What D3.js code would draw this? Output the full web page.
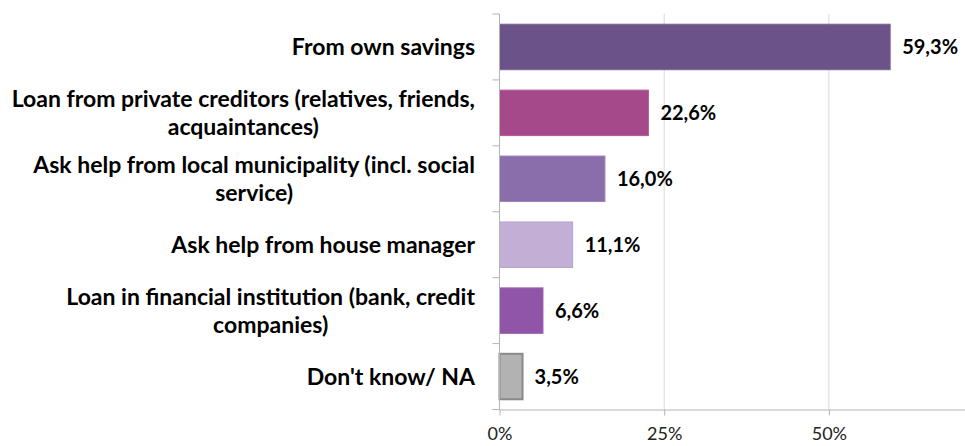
<!DOCTYPE html>
<html>
<head>
<meta charset="utf-8">
<script src="https://cdn.jsdelivr.net/npm/d3@7"></script>
<style>
  body { margin: 0; background: #fff; }
  svg { display: block; font-family: Lato, "Open Sans", sans-serif; }
</style>
</head>
<body>
<div id="vis"></div>
<script>
// chart data
var categories = [
  ["From own savings"],
  ["Loan from private creditors (relatives, friends,", "acquaintances)"],
  ["Ask help from local municipality (incl. social", "service)"],
  ["Ask help from house manager"],
  ["Loan in financial institution (bank, credit", "companies)"],
  ["Don't know/ NA"]
];
var values = [59.3, 22.6, 16.0, 11.1, 6.6, 3.5];
var valueLabels = ["59,3%", "22,6%", "16,0%", "11,1%", "6,6%", "3,5%"];
var barColors = ["#6b5389", "#a6498b", "#8a6dab", "#c3afd5", "#9155a7", "#b2b2b2"];
var barStrokes = ["#7a6596", "#b0589a", "#9a7fba", "#b7a3cc", "#9d63b2", "#8a8a8a"];
var xTicks = [0, 25, 50];

var width = 965, height = 446;
var x0 = 499.5, yTop = 14, yBottom = 409.5;

var svg = d3.select("#vis").append("svg")
  .attr("width", width)
  .attr("height", height);

// axis runs to 75%, past the right edge of the picture
var x = d3.scaleLinear().domain([0, 75]).range([x0, x0 + 75 * 6.588]);
var y = d3.scaleBand().domain(d3.range(categories.length))
  .range([yTop, yBottom]).paddingInner(0.31).paddingOuter(0.155);

// gridlines
svg.append("g")
  .selectAll("line")
  .data(xTicks.filter(function(d) { return d > 0; }))
  .join("line")
  .attr("x1", function(d) { return x(d); })
  .attr("x2", function(d) { return x(d); })
  .attr("y1", yTop)
  .attr("y2", yBottom)
  .attr("stroke", "#d9d9d9")
  .attr("stroke-width", 1);

// bars
svg.append("g")
  .selectAll("rect")
  .data(values)
  .join("rect")
  .attr("x", x(0))
  .attr("y", function(d, i) { return y(i); })
  .attr("width", function(d) { return x(d) - x(0); })
  .attr("height", y.bandwidth())
  .attr("fill", function(d, i) { return barColors[i]; })
  .attr("stroke", function(d, i) { return barStrokes[i]; })
  .attr("stroke-width", function(d, i) { return i === 5 ? 2 : 1; });

// value labels
svg.append("g")
  .selectAll("text")
  .data(values)
  .join("text")
  .attr("x", function(d) { return x(d) + 12; })
  .attr("y", function(d, i) { return y(i) + y.bandwidth() / 2; })
  .attr("dy", "0.35em")
  .attr("font-size", "20px")
  .attr("font-weight", "bold")
  .attr("fill", "#000")
  .text(function(d, i) { return valueLabels[i]; });

// left axis line + ticks at band boundaries
var axisColor = "#b3b3b3";
var step = y.step();
var bounds = d3.range(categories.length + 1).map(function(i) {
  return i < categories.length ? y(i) - y.paddingInner() * step / 2 : yBottom;
});
svg.append("line")
  .attr("x1", x0).attr("x2", x0)
  .attr("y1", yTop).attr("y2", yBottom)
  .attr("stroke", axisColor);
svg.append("g")
  .selectAll("line")
  .data(bounds)
  .join("line")
  .attr("x1", x0 - 7).attr("x2", x0)
  .attr("y1", function(d) { return d; })
  .attr("y2", function(d) { return d; })
  .attr("stroke", axisColor);

// bottom axis
var xAxis = svg.append("g")
  .attr("transform", "translate(0," + yBottom + ")")
  .call(d3.axisBottom(x).tickValues(xTicks).tickSize(6).tickSizeOuter(0)
    .tickFormat(function(d) { return d + "%"; }));
xAxis.select(".domain").attr("stroke", axisColor);
xAxis.selectAll(".tick line").attr("stroke", axisColor);
xAxis.selectAll(".tick text")
  .attr("font-family", "Lato, sans-serif")
  .attr("font-size", "18px")
  .attr("fill", "#222")
  .attr("y", 30)
  .attr("dy", 0);

// category labels
var labelRight = 475;
var lineH = 28;
var labels = svg.append("g")
  .selectAll("text")
  .data(categories)
  .join("text")
  .attr("font-size", "23px")
  .attr("font-weight", "bold")
  .attr("fill", "#000");

labels.each(function(lines, i) {
  var t = d3.select(this);
  var cy = y(i) + y.bandwidth() / 2;
  var startY = cy - (lines.length - 1) * lineH / 2;
  lines.forEach(function(l, k) {
    t.append("tspan")
      .attr("y", startY + k * lineH)
      .attr("dy", "0.35em")
      .text(l);
  });
  // widest line right-aligned, lines centred on each other
  var widths = [];
  t.selectAll("tspan").each(function() { widths.push(this.getComputedTextLength()); });
  var maxW = d3.max(widths);
  var cx = labelRight - maxW / 2;
  t.attr("text-anchor", "middle");
  t.selectAll("tspan").attr("x", cx);
});
</script>
</body>
</html>
